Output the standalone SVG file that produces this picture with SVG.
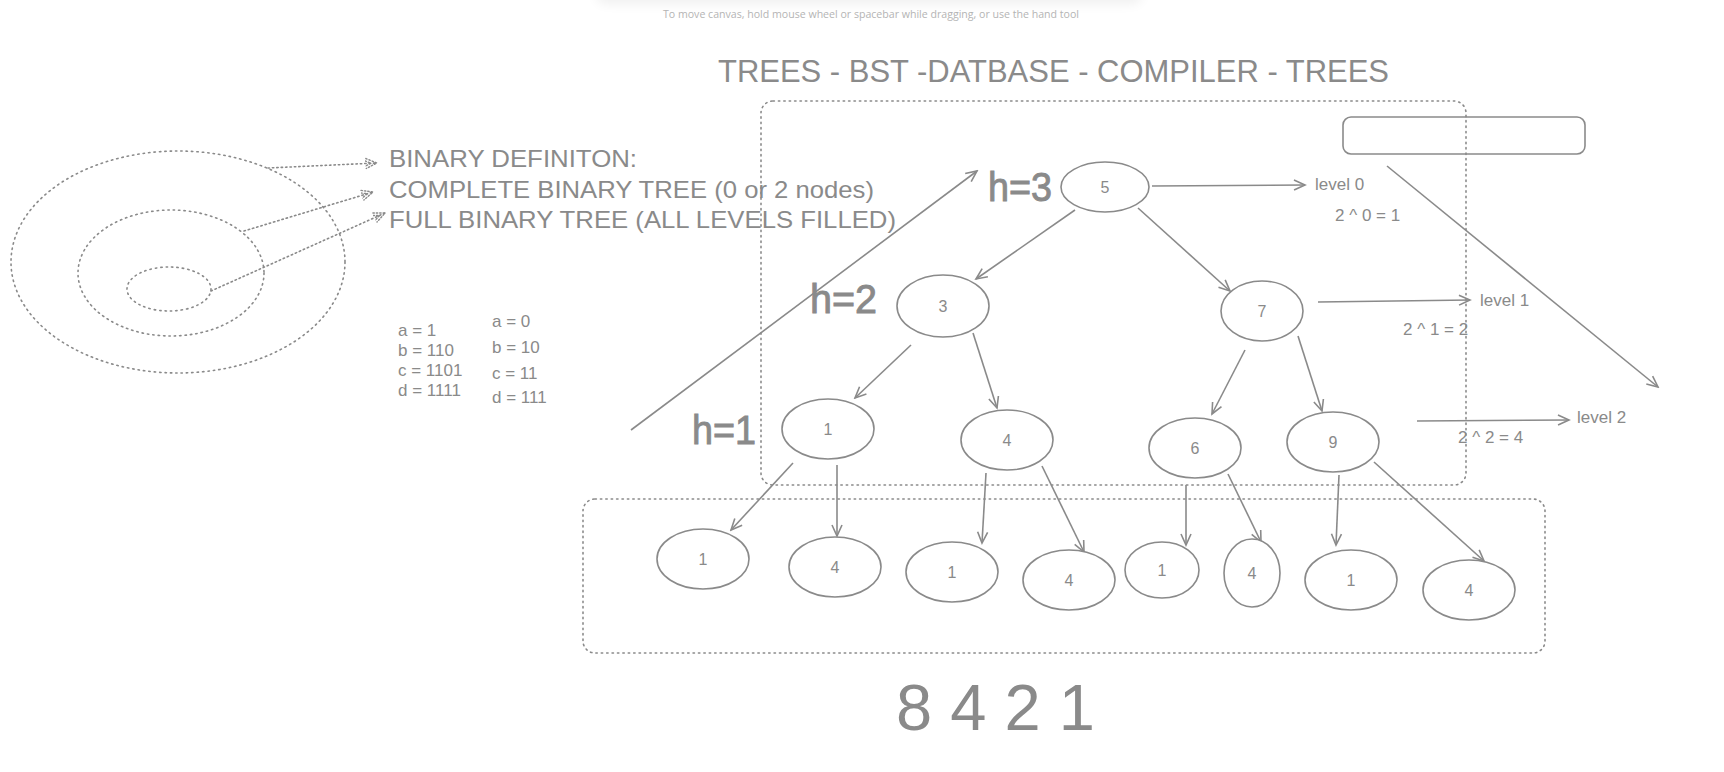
<svg xmlns="http://www.w3.org/2000/svg" width="1724" height="772" viewBox="0 0 1724 772">
<style>
text{font-family:"Liberation Sans",Arial,sans-serif;fill:#8a8a8a}
.hint{font-family:"Open Sans","Noto Sans",sans-serif;font-size:11px;fill:#b4b4b4}
.node ellipse{fill:#fff;stroke:#8a8a8a;stroke-width:1.6}
.node text{font-size:16px;text-anchor:middle}
.dot{fill:none;stroke:#8a8a8a;stroke-width:1.6;stroke-dasharray:1.4 4;stroke-linecap:round}
.edge{fill:none;stroke:#8a8a8a;stroke-width:1.6}
.dedge{fill:none;stroke:#8a8a8a;stroke-width:1.6;stroke-dasharray:1.4 3;stroke-linecap:round}
.lvl{font-size:17px}
.code{font-size:17px}
.big{font-size:24px}
.h{font-size:40px;stroke:#8a8a8a;stroke-width:0.9}
</style>
<defs>
<marker id="arr" markerUnits="userSpaceOnUse" markerWidth="14" markerHeight="14" refX="12" refY="6" orient="auto" viewBox="0 0 14 12">
<path d="M1,1 L12,6 L1,11" fill="none" stroke="#8a8a8a" stroke-width="1.6"/>
</marker>
<marker id="darr" markerUnits="userSpaceOnUse" markerWidth="14" markerHeight="14" refX="12" refY="6" orient="auto" viewBox="0 0 14 12">
<path d="M1,1 L12,6 L1,11 M-3,2 L6,6 L-3,10" fill="none" stroke="#8a8a8a" stroke-width="1.4" stroke-dasharray="1.4 2" stroke-linecap="round"/>
</marker>
<filter id="sh" x="-10%" y="-100%" width="120%" height="400%">
<feGaussianBlur stdDeviation="6"/>
</filter>
</defs>
<rect width="1724" height="772" fill="#fff"/>
<g id="toolbar-shadow">
<rect x="596" y="-30" width="546" height="34" rx="10" fill="#000" opacity="0.06" filter="url(#sh)"/>
<rect x="596" y="-40" width="546" height="40" fill="#fff"/>
</g>
<text class="hint" x="663" y="18" textLength="416" lengthAdjust="spacingAndGlyphs">To move canvas, hold mouse wheel or spacebar while dragging, or use the hand tool</text>
<text x="718" y="82" font-size="32" textLength="671" lengthAdjust="spacingAndGlyphs">TREES - BST -DATBASE - COMPILER - TREES</text>

<g id="venn">
<ellipse class="dot" cx="178" cy="262" rx="167" ry="111"/>
<ellipse class="dot" cx="171" cy="273" rx="93" ry="63"/>
<ellipse class="dot" cx="169" cy="289" rx="42" ry="22"/>
</g>
<g id="definitions">
<text class="big" x="389" y="167" textLength="248" lengthAdjust="spacingAndGlyphs">BINARY DEFINITON:</text>
<text class="big" x="389" y="198" textLength="485" lengthAdjust="spacingAndGlyphs">COMPLETE BINARY TREE (0 or 2 nodes)</text>
<text class="big" x="389" y="228" textLength="507" lengthAdjust="spacingAndGlyphs">FULL BINARY TREE (ALL LEVELS FILLED)</text>
</g>
<g id="codes">
<text class="code" x="398" y="336">a = 1</text>
<text class="code" x="398" y="356">b = 110</text>
<text class="code" x="398" y="376">c = 1101</text>
<text class="code" x="398" y="396">d = 1111</text>
<text class="code" x="492" y="327">a = 0</text>
<text class="code" x="492" y="353">b = 10</text>
<text class="code" x="492" y="379">c = 11</text>
<text class="code" x="492" y="403">d = 111</text>
</g>

<g id="groups">
<rect class="dot" x="761" y="101" width="705" height="384" rx="12"/>
<rect class="dot" x="583" y="499" width="962" height="154" rx="12"/>
<rect x="1343" y="117" width="242" height="37" rx="8" fill="none" stroke="#8a8a8a" stroke-width="1.6"/>
</g>

<g id="connectors">
<path class="dedge" d="M268,168 L377,163" marker-end="url(#darr)"/>
<path class="dedge" d="M244,231 L373,192" marker-end="url(#darr)"/>
<path class="dedge" d="M211,291 L385,213" marker-end="url(#darr)"/>
<path class="edge" d="M631,430 L977,171" marker-end="url(#arr)"/>
<path class="edge" d="M1387,166 L1658,387" marker-end="url(#arr)"/>
<path class="edge" d="M1075,210 L976,279" marker-end="url(#arr)"/>
<path class="edge" d="M1138,208 L1230,291" marker-end="url(#arr)"/>
<path class="edge" d="M911,345 L855,398" marker-end="url(#arr)"/>
<path class="edge" d="M973,333 L997,408" marker-end="url(#arr)"/>
<path class="edge" d="M1245,350 L1212,414" marker-end="url(#arr)"/>
<path class="edge" d="M1298,336 L1322,411" marker-end="url(#arr)"/>
<path class="edge" d="M793,463 L731,530" marker-end="url(#arr)"/>
<path class="edge" d="M837,465 L837,536" marker-end="url(#arr)"/>
<path class="edge" d="M986,473 L982,543" marker-end="url(#arr)"/>
<path class="edge" d="M1042,466 L1084,552" marker-end="url(#arr)"/>
<path class="edge" d="M1186,485 L1186,545" marker-end="url(#arr)"/>
<path class="edge" d="M1228,474 L1261,542" marker-end="url(#arr)"/>
<path class="edge" d="M1339,475 L1336,545" marker-end="url(#arr)"/>
<path class="edge" d="M1374,462 L1484,561" marker-end="url(#arr)"/>
<path class="edge" d="M1152,186 L1305,185" marker-end="url(#arr)"/>
<path class="edge" d="M1318,302 L1470,300" marker-end="url(#arr)"/>
<path class="edge" d="M1417,421 L1569,420" marker-end="url(#arr)"/>
</g>

<g id="levels">
<text class="lvl" x="1315" y="190">level 0</text>
<text class="lvl" x="1335" y="221">2 ^ 0 = 1</text>
<text class="lvl" x="1480" y="306">level 1</text>
<text class="lvl" x="1403" y="335">2 ^ 1 = 2</text>
<text class="lvl" x="1577" y="423">level 2</text>
<text class="lvl" x="1458" y="443">2 ^ 2 = 4</text>
</g>
<g id="heights">
<text class="h" x="988" y="201" textLength="64" lengthAdjust="spacingAndGlyphs">h=3</text>
<text class="h" x="810" y="313" textLength="67" lengthAdjust="spacingAndGlyphs">h=2</text>
<text class="h" x="692" y="444" textLength="64" lengthAdjust="spacingAndGlyphs">h=1</text>
</g>

<g id="n5" class="node"><ellipse cx="1105" cy="187" rx="44" ry="25"/><text x="1105" y="193">5</text></g>
<g id="n3" class="node"><ellipse cx="943" cy="306" rx="46" ry="31"/><text x="943" y="312">3</text></g>
<g id="n7" class="node"><ellipse cx="1262" cy="311" rx="41" ry="30"/><text x="1262" y="317">7</text></g>
<g id="n1" class="node"><ellipse cx="828" cy="429" rx="46" ry="30"/><text x="828" y="435">1</text></g>
<g id="n4" class="node"><ellipse cx="1007" cy="440" rx="46" ry="30"/><text x="1007" y="446">4</text></g>
<g id="n6" class="node"><ellipse cx="1195" cy="448" rx="46" ry="30"/><text x="1195" y="454">6</text></g>
<g id="n9" class="node"><ellipse cx="1333" cy="442" rx="46" ry="30"/><text x="1333" y="448">9</text></g>
<g id="l1" class="node"><ellipse cx="703" cy="559" rx="46" ry="30"/><text x="703" y="565">1</text></g>
<g id="l2" class="node"><ellipse cx="835" cy="567" rx="46" ry="30"/><text x="835" y="573">4</text></g>
<g id="l3" class="node"><ellipse cx="952" cy="572" rx="46" ry="30"/><text x="952" y="578">1</text></g>
<g id="l4" class="node"><ellipse cx="1069" cy="580" rx="46" ry="30"/><text x="1069" y="586">4</text></g>
<g id="l5" class="node"><ellipse cx="1162" cy="570" rx="37" ry="28"/><text x="1162" y="576">1</text></g>
<g id="l6" class="node"><ellipse cx="1252" cy="573" rx="28" ry="34"/><text x="1252" y="579">4</text></g>
<g id="l7" class="node"><ellipse cx="1351" cy="580" rx="46" ry="30"/><text x="1351" y="586">1</text></g>
<g id="l8" class="node"><ellipse cx="1469" cy="590" rx="46" ry="30"/><text x="1469" y="596">4</text></g>

<text x="896" y="730" font-size="65">8 4 2 1</text>
</svg>
